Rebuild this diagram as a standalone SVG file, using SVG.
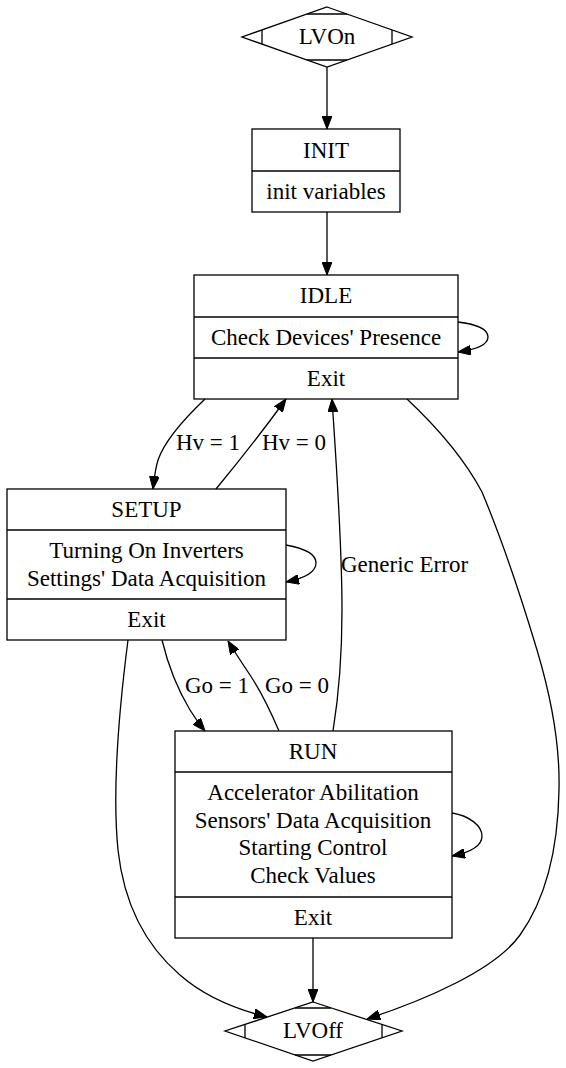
<svg xmlns="http://www.w3.org/2000/svg" width="566" height="1068" viewBox="0 0 566 1068" font-family="'Liberation Serif', 'Times New Roman', 'DejaVu Serif', serif">
<style>
  .shape { fill: none; stroke: #000; stroke-width: 1.3; }
  .edge { fill: none; stroke: #000; stroke-width: 1.3; marker-end: url(#arrow); }
  text { font-family: 'Liberation Serif', 'Times New Roman', 'DejaVu Serif', serif; font-size: 23px; fill: #000; }
  .c { text-anchor: middle; }
</style>
<defs>
  <marker id="arrow" viewBox="0 0 13 10" refX="13" refY="5" markerWidth="13" markerHeight="10" markerUnits="userSpaceOnUse" orient="auto">
    <path d="M0,0 L13,5 L0,10 z" fill="#000" stroke="#000" stroke-width="1"/>
  </marker>
</defs>
<rect width="566" height="1068" fill="#fff"/>

<g id="connectors">
  <path class="edge" d="M327,67 L327,129"/>
  <path class="edge" d="M327,212 L327,275"/>
  <path class="edge" d="M458,322 C475,324 488,329 488,337 C488,344 480,349 458,352"/>
  <path class="edge" d="M286,545 C303,548 316,554 316,563 C316,572 306,578 286,582"/>
  <path class="edge" d="M452,813 C470,816 482,826 482,836 C482,846 472,852 452,856"/>
  <path class="edge" d="M205,399 C185,418 165,440 158,460 C155,470 154,480 153,489"/>
  <path class="edge" d="M216,489 C240,460 265,428 286,399"/>
  <path class="edge" d="M333,731 C338,700 342,660 342,610 C342,540 336,460 332,399"/>
  <path class="edge" d="M162,640 C168,665 178,690 190,710 C195,718 200,725 205,731"/>
  <path class="edge" d="M279,731 C270,710 260,690 250,675 C242,663 234,651 228,641"/>
  <path class="edge" d="M128,640 C119,710 112,790 118,850 C124,905 145,945 180,975 C205,997 235,1009 267,1017"/>
  <path class="edge" d="M407,399 C440,430 465,460 482,492 C500,535 522,600 537,650 C552,700 560,750 559,790 C558,850 545,900 520,935 C495,970 425,1000 367,1019"/>
  <path class="edge" d="M313,938 L313,1002"/>
  <text x="176" y="450">Hv = 1</text>
  <text x="262" y="450">Hv = 0</text>
  <text x="341" y="572">Generic Error</text>
  <text x="185" y="693">Go = 1</text>
  <text x="265" y="693">Go = 0</text>
</g>

<g id="LVOn">
  <polygon class="shape" points="327,7 412,37 327,67 242,37"/>
  <path class="shape" d="M307,14 L347,14 M262,30 L262,44 M392,30 L392,44 M307,60 L347,60"/>
  <text class="c" x="327" y="44">LVOn</text>
</g>

<g id="INIT">
  <rect class="shape" x="252" y="129" width="148" height="83"/>
  <line class="shape" x1="252" y1="171" x2="400" y2="171"/>
  <text class="c" x="326" y="158">INIT</text>
  <text class="c" x="326" y="199">init variables</text>
</g>

<g id="IDLE">
  <rect class="shape" x="194" y="275" width="264" height="124"/>
  <line class="shape" x1="194" y1="317" x2="458" y2="317"/>
  <line class="shape" x1="194" y1="358" x2="458" y2="358"/>
  <text class="c" x="326" y="303">IDLE</text>
  <text class="c" x="326" y="345">Check Devices' Presence</text>
  <text class="c" x="326" y="386">Exit</text>
</g>

<g id="SETUP">
  <rect class="shape" x="7" y="489" width="279" height="151"/>
  <line class="shape" x1="7" y1="530" x2="286" y2="530"/>
  <line class="shape" x1="7" y1="599" x2="286" y2="599"/>
  <text class="c" x="146.5" y="517">SETUP</text>
  <text class="c" x="146.5" y="558">Turning On Inverters</text>
  <text class="c" x="146.5" y="586">Settings' Data Acquisition</text>
  <text class="c" x="146.5" y="627">Exit</text>
</g>

<g id="RUN">
  <rect class="shape" x="175" y="731" width="277" height="207"/>
  <line class="shape" x1="175" y1="772" x2="452" y2="772"/>
  <line class="shape" x1="175" y1="897" x2="452" y2="897"/>
  <text class="c" x="313" y="759">RUN</text>
  <text class="c" x="313" y="800">Accelerator Abilitation</text>
  <text class="c" x="313" y="828">Sensors' Data Acquisition</text>
  <text class="c" x="313" y="855">Starting Control</text>
  <text class="c" x="313" y="883">Check Values</text>
  <text class="c" x="313" y="925">Exit</text>
</g>

<g id="LVOff">
  <polygon class="shape" points="313,1002 402,1031 313,1061 225,1031"/>
  <path class="shape" d="M295,1008 L331,1008 M245,1024 L245,1038 M382,1024 L382,1038 M295,1055 L331,1055"/>
  <text class="c" x="313" y="1038">LVOff</text>
</g>
</svg>
